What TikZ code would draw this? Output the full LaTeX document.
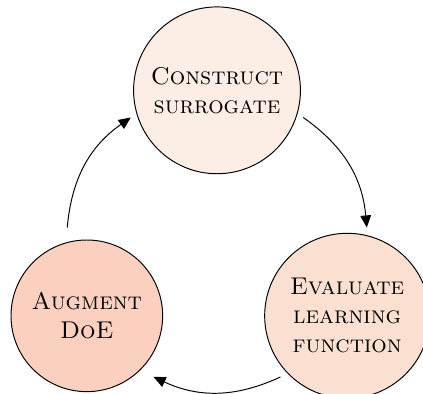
\documentclass[tikz,border=0pt]{standalone}
\usepackage{tikz}
\usetikzlibrary{arrows.meta}

\definecolor{constructfill}{RGB}{252,237,229}
\definecolor{evaluatefill}{RGB}{251,223,209}
\definecolor{augmentfill}{RGB}{251,208,190}

\begin{document}
\begin{tikzpicture}[stage/.style={draw, circle, align=center, inner sep=4.3pt, font=\scshape},
                    cycle/.style={-{Triangle[length=5pt,width=4.4pt]}}]

    \useasboundingbox (-3.147,-2.223) rectangle (2.987,3.49);

    % Nodes
    \node (construct) [stage, fill=constructfill] at (90:2.18) {Construct\\surrogate};
    \node (evaluate) [stage, fill=evaluatefill] at (330:2.18) {Evaluate\\learning\\function};
    \node (augment) [stage, fill=augmentfill, inner sep=5pt] at (210:2.18) {Augment\\DoE};

    % Arrow ends
    \coordinate (c1) at (55:2.18);
    \coordinate (c2) at (5:2.18);
    \coordinate (e1) at (295:2.18);
    \coordinate (e2) at (245:2.18);
    \coordinate (a1) at (175:2.18);
    \coordinate (a2) at (125:2.18);

    % Arrows
    \draw[cycle] (c1) to[bend left=25] (c2);
    \draw[cycle] (e1) to[bend left=25] (e2);
    \draw[cycle] (a1) to[bend left=25] (a2);

\end{tikzpicture}
\end{document}
